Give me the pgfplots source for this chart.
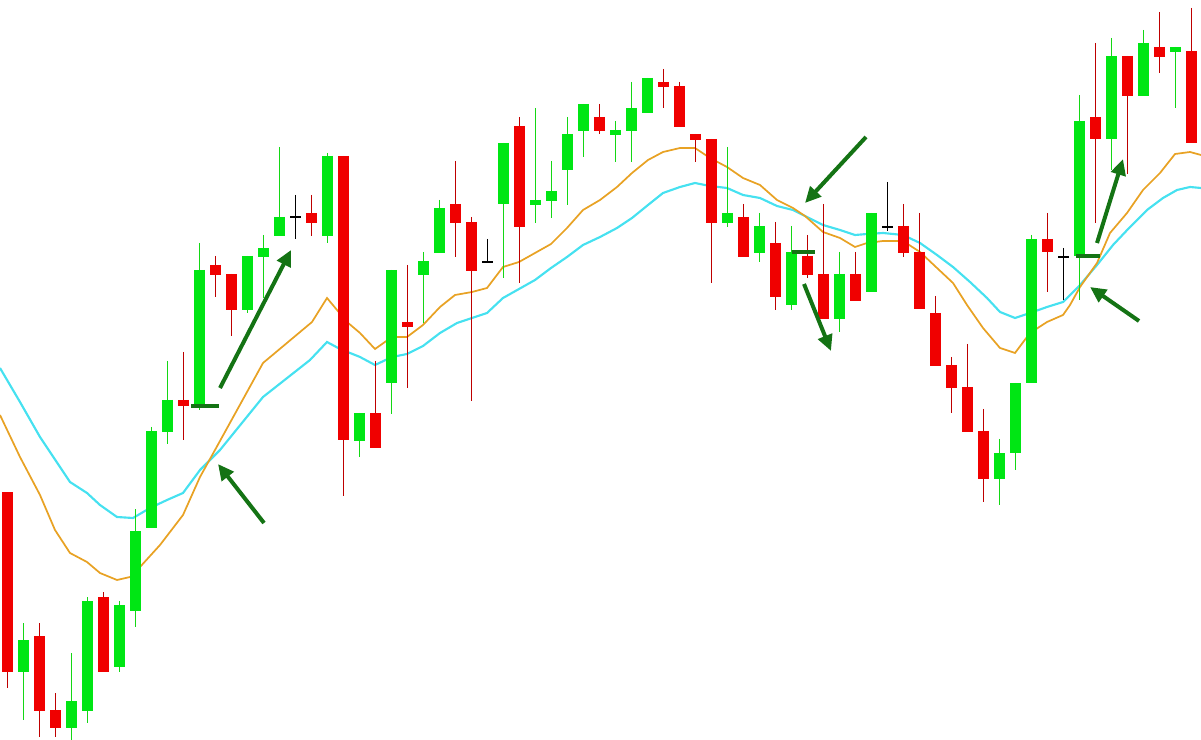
\documentclass[border=0pt]{standalone}
\usepackage{pgfplots}
\usepackage{pgfplotstable}
\pgfplotsset{compat=1.18}
\usetikzlibrary{arrows.meta}

\definecolor{cgreen}{RGB}{0,230,20}
\definecolor{cred}{RGB}{240,0,0}
\definecolor{credwick}{RGB}{190,0,0}
\definecolor{cgreenwick}{RGB}{20,215,20}
\definecolor{maorange}{RGB}{232,162,36}
\definecolor{macyan}{RGB}{70,225,240}
\definecolor{arrowgreen}{RGB}{20,115,20}

% candles: x (pixel centre), hi, body top, body bottom, lo (pixel rows)
\pgfplotstableread{
x hi top bot lo
23.5 623 640 672 720
71.5 653 701 728 740
87.5 597 601 711 723
119.5 601 605 667 672
135.5 509 531 611 627
151.5 427 431 528 528
167.5 361 400 432 444
199.5 243 270 407 410
247.5 256 256 310 313
263.5 235 248 257 298
279.5 147 217 236 236
327.5 153 156 236 243
359.5 413 413 441 457
391.5 270 270 383 414
423.5 252 261 275 323
439.5 200 208 253 253
503.5 143 143 204 278
535.5 108 200 205 223
551.5 161 191 201 218
567.5 117 134 170 205
583.5 104 104 131 157
615.5 121 130 135 162
631.5 82 108 131 162
647.5 78 78 113 113
727.5 147 213 223 227
759.5 213 226 253 262
791.5 226 252 305 310
839.5 252 274 319 332
871.5 213 213 292 292
999.5 439 453 479 505
1015.5 383 383 453 470
1031.5 235 239 383 383
1079.5 95 121 256 300
1111.5 38 56 139 170
1143.5 30 43 96 96
1175.5 47 47 52 108
}\upcandles

\pgfplotstableread{
x hi top bot lo
7.5 492 492 672 688
39.5 623 636 711 737
55.5 693 710 728 737
103.5 592 597 672 672
183.5 352 400 406 440
215.5 256 265 275 297
231.5 274 274 310 336
311.5 195 213 223 236
343.5 156 156 440 496
375.5 361 413 448 448
407.5 265 322 327 388
455.5 161 204 223 257
471.5 217 222 271 401
519.5 117 126 227 283
599.5 104 117 131 134
663.5 69 82 87 108
679.5 82 86 127 127
695.5 134 134 140 162
711.5 139 139 223 283
743.5 204 217 257 257
775.5 222 243 297 310
807.5 235 256 275 278
823.5 204 274 319 319
855.5 252 274 301 301
903.5 204 226 253 257
919.5 213 252 309 309
935.5 296 313 366 366
951.5 357 365 388 413
967.5 344 387 432 432
983.5 409 431 479 502
1047.5 213 239 252 292
1095.5 43 117 139 223
1127.5 56 56 96 174
1159.5 12 47 57 73
1191.5 8 51 143 143
}\downcandles

\pgfplotstableread{
x hi mid lo
295.5 195 217 239
487.5 239 262 262
887.5 182 227 231
1063.5 248 257 300
}\dojis

\pgfplotstableread{
x y
0 415
20 457
40 495
55 530
70 553
87 562
100 573
117 580
130 577
140 567
160 545
183 515
200 477
215 450
263 363
312 322
327 298
347 322
360 333
375 349
392 337
407 337
423 325
440 307
455 295
472 292
487 288
503 267
519 262
535 253
551 244
567 228
583 210
600 200
617 187
632 173
648 160
663 152
680 148
695 148
710 158
727 167
743 178
760 185
777 200
793 208
805 216
823 232
840 238
855 247
867 243
883 241
903 241
920 252
937 268
953 283
967 305
983 328
1000 348
1015 353
1030 333
1047 322
1063 315
1070 305
1080 287
1097 263
1110 233
1127 213
1143 190
1160 173
1175 154
1190 152
1201 155
}\maorangetab

\pgfplotstableread{
x y
0 368
20 402
40 437
60 467
70 482
87 493
100 505
117 517
133 518
150 508
167 500
183 493
200 470
220 450
263 397
310 360
327 342
340 349
360 357
375 365
392 357
407 354
423 346
440 333
457 323
472 318
487 313
503 298
519 289
535 280
551 268
567 257
583 245
600 237
617 228
632 218
648 205
663 193
680 187
695 183
710 186
727 188
743 195
760 198
777 206
793 210
805 216
823 225
840 230
855 235
867 234
883 233
903 235
920 243
937 255
953 267
970 282
987 298
1000 312
1015 318
1030 313
1047 307
1063 302
1080 285
1097 265
1113 245
1130 227
1147 210
1163 198
1177 190
1190 187
1201 188
}\macyantab

\begin{document}
\begin{tikzpicture}
\begin{axis}[
  scale only axis,
  width=450.375pt, height=277.5pt,
  xmin=0, xmax=1201,
  ymin=0, ymax=740,
  y dir=reverse,
  hide axis,
  wick/.style={forget plot, mark=none, line width=0.55pt,
    quiver={u=0, v=\thisrow{lo}-\thisrow{hi}}},
  body/.style={forget plot, mark=none, line width=4.1pt,
    quiver={u=0, v=\thisrow{bot}-\thisrow{top}}},
]
\coordinate (bl) at (rel axis cs:0,0);
\coordinate (tr) at (rel axis cs:1,1);

% moving averages
\addplot[macyan, line width=0.8pt, mark=none] table[x=x, y=y] {\macyantab};
\addplot[maorange, line width=0.65pt, mark=none] table[x=x, y=y] {\maorangetab};

% wicks
\addplot[cgreenwick, wick] table[x=x, y=hi] {\upcandles};
\addplot[credwick, wick] table[x=x, y=hi] {\downcandles};
\addplot[black, wick] table[x=x, y=hi] {\dojis};

% bodies
\addplot[cgreen, body] table[x=x, y=top] {\upcandles};
\addplot[cred, body] table[x=x, y=top] {\downcandles};
\addplot[only marks, mark=-, mark size=2.05pt, black, line width=0.5pt]
  table[x=x, y=mid] {\dojis};

% annotations
\begin{scope}[arrowgreen, line width=1.5pt]
\draw (axis cs:191,406) -- (axis cs:219,406);
\draw (axis cs:792,252) -- (axis cs:815,252);
\draw (axis cs:1076,256) -- (axis cs:1100,256);
\end{scope}
\begin{scope}[arrowgreen, line width=1.5pt, -{Triangle[length=6pt,width=5.5pt]}]
\draw (axis cs:220,388) -- (axis cs:291,250);
\draw (axis cs:264,523) -- (axis cs:218,464);
\draw (axis cs:866,137) -- (axis cs:805,203);
\draw (axis cs:804,284) -- (axis cs:831,351);
\draw (axis cs:1097,243) -- (axis cs:1123,159);
\draw (axis cs:1139,321) -- (axis cs:1090,287);
\end{scope}
\end{axis}
\pgfresetboundingbox
\path (bl) rectangle (tr);
\end{tikzpicture}
\end{document}
